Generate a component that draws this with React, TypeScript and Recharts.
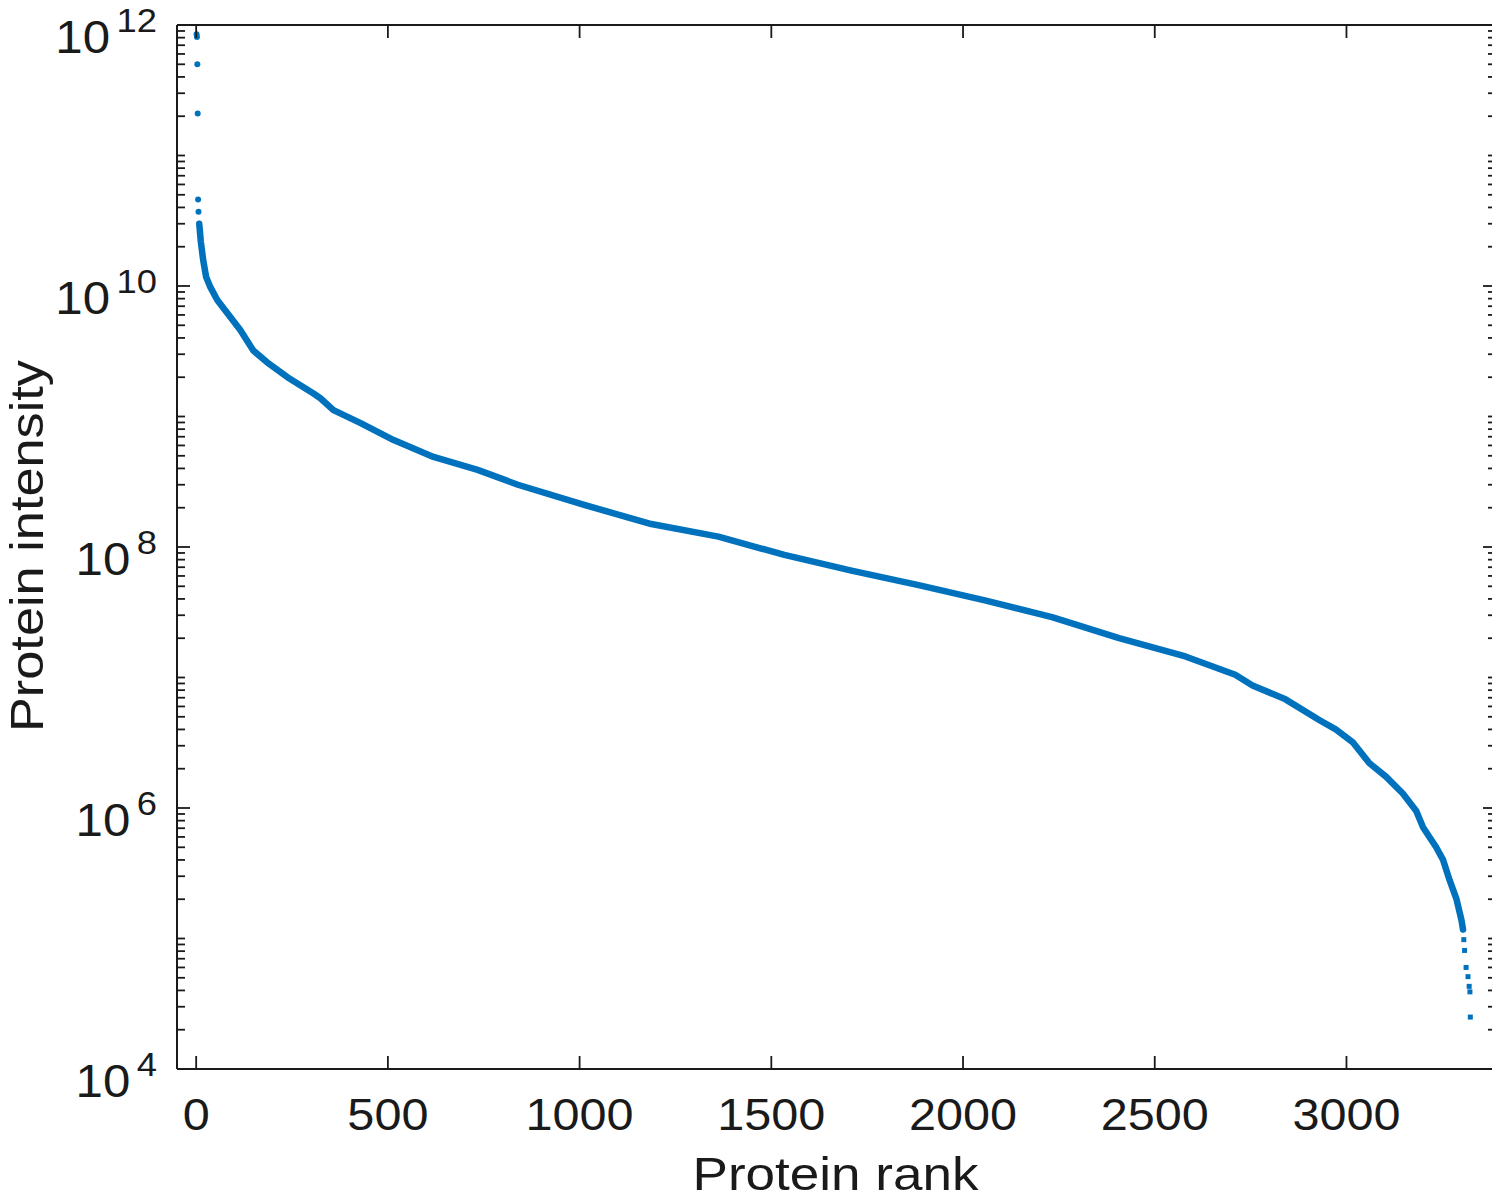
import React from 'react';
import { ComposedChart, Line, Scatter, XAxis, YAxis } from 'recharts';

// ---- data ----
const headRanks = [1, 2, 3, 4, 5, 6];
const headValues = [8.5e11, 8.1e11, 5.0e11, 2.1e11, 4.6e10, 3.7e10];

const curveRanks = [
  8, 12, 18, 26, 37, 55, 81, 115, 149, 185, 238, 306, 324, 358, 429, 515, 619, 734,
  839, 1012, 1187, 1362, 1534, 1709, 1884, 2057, 2232, 2407, 2580, 2710, 2755, 2841,
  2930, 2972, 3016, 3060, 3103, 3147, 3182, 3200, 3234, 3252, 3269, 3287, 3300, 3304,
];
const curveValues = [
  3.0e10, 2.2e10, 1.6e10, 1.17e10, 9.8e9, 7.8e9, 6.2e9, 4.6e9, 3.2e9, 2.6e9, 2.0e9, 1.5e9,
  1.38e9, 1.12e9, 8.9e8, 6.6e8, 4.9e8, 3.9e8, 3.0e8, 2.1e8, 1.5e8, 1.2e8, 8.7e7, 6.6e7,
  5.1e7, 3.9e7, 2.9e7, 2.0e7, 1.45e7, 1.05e7, 8.7e6, 6.8e6, 4.7e6, 4.0e6, 3.2e6, 2.2e6,
  1.74e6, 1.29e6, 9.5e5, 7.1e5, 5.0e5, 4.0e5, 2.8e5, 2.0e5, 1.38e5, 1.17e5,
];

const tailRanks = [3306, 3308, 3312, 3317, 3320, 3322, 3323];
const tailValues = [9.8e4, 8.1e4, 6.0e4, 5.1e4, 4.3e4, 3.9e4, 2.5e4];

const xTicks = [0, 500, 1000, 1500, 2000, 2500, 3000];
const yDecades = [1e4, 1e5, 1e6, 1e7, 1e8, 1e9, 1e10, 1e11];
const yMultipliers = [1, 2, 3, 4, 5, 6, 7, 8, 9];
const yTop = 1e12;

const xLabel = 'Protein rank';
const yLabel = 'Protein intensity';

// ---- derived tables ----
const headData = headRanks.map((r, i) => ({ r, v: headValues[i] }));
const curveData = curveRanks.map((r, i) => ({ r, v: curveValues[i] }));
const tailData = tailRanks.map((r, i) => ({ r, v: tailValues[i] }));
const yTicks = [...yDecades.flatMap((d) => yMultipliers.map((m) => m * d)), yTop];

const BLUE = '#0072BD';
const AX = '#1a1a1a';
const FONT = '"Liberation Sans", Arial, Helvetica, sans-serif';

const decadeExp = (v: number) => {
  const e = Math.round(Math.log10(v));
  const isDecade = Math.abs(v - Math.pow(10, e)) < 1e-6 * v;
  return { e, isDecade };
};

const YTickLeft = (props: any) => {
  const { x, y, payload } = props;
  const { e, isDecade } = decadeExp(payload.value);
  const labeled = isDecade && e % 2 === 0;
  const len = labeled ? 13 : 8;
  return (
    <g>
      <line x1={x} y1={y} x2={x + len} y2={y} stroke={AX} strokeWidth={1.8} />
      {labeled && (
        <text
          transform={`translate(${x - 20},${y + 28}) scale(1.07,1)`}
          x={0}
          y={0}
          textAnchor="end"
          fontSize={46}
          fontFamily={FONT}
          fill={AX}
        >
          <tspan>10</tspan>
          <tspan dx={6} dy={-21} fontSize={34}>
            {e}
          </tspan>
        </text>
      )}
    </g>
  );
};

const YTickRight = (props: any) => {
  const { x, y, payload } = props;
  const { e, isDecade } = decadeExp(payload.value);
  const len = isDecade && e % 2 === 0 ? 13 : 8;
  return <line x1={x} y1={y} x2={x - len} y2={y} stroke={AX} strokeWidth={1.8} />;
};

const XTickBottom = (props: any) => {
  const { x, y, payload } = props;
  return (
    <g>
      <line x1={x} y1={y} x2={x} y2={y - 13} stroke={AX} strokeWidth={1.8} />
      <text
        transform={`translate(${x},${y + 61}) scale(1.08,1)`}
        x={0}
        y={0}
        textAnchor="middle"
        fontSize={45}
        fontFamily={FONT}
        fill={AX}
      >
        {payload.value}
      </text>
    </g>
  );
};

const XTickTop = (props: any) => {
  const { x, y } = props;
  return <line x1={x} y1={y} x2={x} y2={y + 13} stroke={AX} strokeWidth={1.8} />;
};

const TailDot = (props: any) => {
  const { cx, cy } = props;
  return <rect x={cx - 2.5} y={cy - 2.5} width={5} height={5} fill={BLUE} />;
};

const HeadDot = (props: any) => {
  const { cx, cy } = props;
  return <circle cx={cx} cy={cy} r={3} fill={BLUE} />;
};

export default function App() {
  return (
    <div style={{ margin: '-8px', width: 1500, height: 1203, overflow: 'hidden', background: '#fff' }}>
      <ComposedChart
        width={1500}
        height={1203}
        margin={{ top: 20, right: 2, bottom: 4, left: 7 }}
        style={{ background: '#fff' }}
      >
        <XAxis
          xAxisId="b"
          type="number"
          dataKey="r"
          domain={[-50, 3390]}
          allowDataOverflow
          ticks={xTicks}
          interval={0}
          height={130}
          tickSize={0}
          tickMargin={0}
          tickLine={false}
          axisLine={{ stroke: AX, strokeWidth: 2 }}
          tick={<XTickBottom />}
          label={{
            value: xLabel,
            content: (p: any) => {
              const vb = p.viewBox;
              return (
                <text
                  x={vb.x + vb.width / 2 - 1}
                  y={vb.y + 121}
                  textAnchor="middle"
                  fontSize={46}
                  textLength={286}
                  lengthAdjust="spacingAndGlyphs"
                  fontFamily={FONT}
                  fill={AX}
                >
                  {xLabel}
                </text>
              );
            },
          }}
        />
        <XAxis
          xAxisId="t"
          orientation="top"
          type="number"
          dataKey="r"
          domain={[-50, 3390]}
          allowDataOverflow
          ticks={xTicks}
          interval={0}
          height={5}
          tickSize={0}
          tickMargin={0}
          tickLine={false}
          axisLine={{ stroke: AX, strokeWidth: 2 }}
          tick={<XTickTop />}
        />
        <YAxis
          yAxisId="l"
          type="number"
          scale="log"
          domain={[1e4, 1e12]}
          allowDataOverflow
          ticks={yTicks}
          interval={0}
          width={170}
          tickSize={0}
          tickMargin={0}
          tickLine={false}
          axisLine={{ stroke: AX, strokeWidth: 2 }}
          tick={<YTickLeft />}
          label={{
            value: yLabel,
            content: (p: any) => {
              const vb = p.viewBox;
              const cx = vb.x + 36;
              const cy = vb.y + vb.height / 2 - 1;
              return (
                <text
                  x={cx}
                  y={cy}
                  transform={`rotate(-90 ${cx} ${cy})`}
                  textAnchor="middle"
                  fontSize={46}
                  textLength={372}
                  lengthAdjust="spacingAndGlyphs"
                  fontFamily={FONT}
                  fill={AX}
                >
                  {yLabel}
                </text>
              );
            },
          }}
        />
        <YAxis
          yAxisId="r"
          orientation="right"
          type="number"
          scale="log"
          domain={[1e4, 1e12]}
          allowDataOverflow
          ticks={yTicks}
          interval={0}
          width={2}
          tickSize={0}
          tickMargin={0}
          tickLine={false}
          axisLine={{ stroke: AX, strokeWidth: 2 }}
          tick={<YTickRight />}
        />
        <Line
          xAxisId="b"
          yAxisId="l"
          data={curveData}
          dataKey="v"
          type="linear"
          stroke={BLUE}
          strokeWidth={6.5}
          strokeLinejoin="round"
          strokeLinecap="round"
          dot={false}
          isAnimationActive={false}
        />
        <Scatter
          xAxisId="b"
          yAxisId="l"
          data={headData}
          dataKey="v"
          fill={BLUE}
          shape={<HeadDot />}
          isAnimationActive={false}
        />
        <Scatter
          xAxisId="b"
          yAxisId="l"
          data={tailData}
          dataKey="v"
          fill={BLUE}
          shape={<TailDot />}
          isAnimationActive={false}
        />
        <Scatter xAxisId="t" yAxisId="r" data={[]} dataKey="v" isAnimationActive={false} />
      </ComposedChart>
    </div>
  );
}
